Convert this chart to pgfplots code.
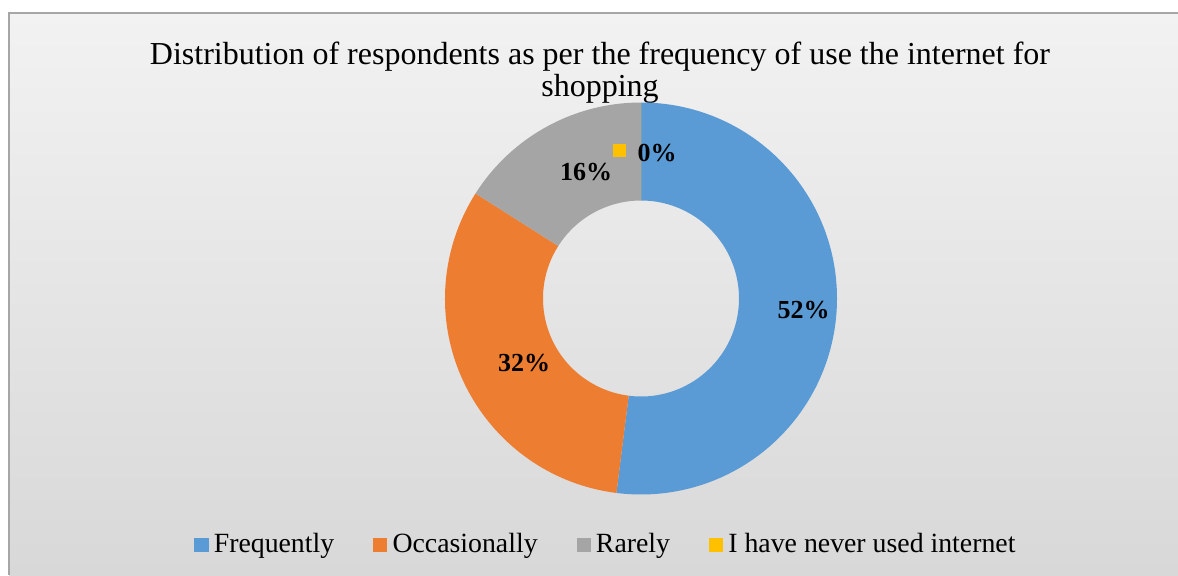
\documentclass[border=0pt]{standalone}
\usepackage{fontspec}
\setmainfont{Liberation Serif}
\usepackage{pgfplots}
\usepackage{pgfplotstable}
\pgfplotsset{compat=1.18}
\definecolor{cFreq}{HTML}{5B9BD5}
\definecolor{cOcc}{HTML}{ED7D31}
\definecolor{cRare}{HTML}{A5A5A5}
\definecolor{cNever}{HTML}{FFC000}
\definecolor{bgTop}{HTML}{F2F2F2}
\definecolor{bgBot}{HTML}{D8D8D8}
\definecolor{frameC}{HTML}{A6A6A6}

\pgfplotstableread[col sep=comma]{
name,value,color
Frequently,52,cFreq
Occasionally,32,cOcc
Rarely,16,cRare
Never,0,cNever
}\donutdata

\begin{document}
\begin{tikzpicture}
\useasboundingbox (0,0) rectangle (589pt,287.5pt);
\begin{axis}[
  at={(0,0)}, anchor=south west,
  hide axis, scale only axis,
  width=589pt, height=287.5pt,
  xmin=0, xmax=1178, ymin=0, ymax=575,
  clip=false,
  legend columns=4,
  legend image code/.code={\fill[#1] (0pt,-3.25pt) rectangle (6.5pt,3.25pt);},
  legend style={draw=none, fill=none, at={(axis cs:605,30.5)}, anchor=center,
    font=\fontsize{13.9}{16}\selectfont,
    inner sep=0pt,
    nodes={inner xsep=0pt, inner ysep=1pt},
    /tikz/every odd column/.append style={column sep=2.75pt},
    /tikz/every even column/.append style={column sep=19.5pt}},
]
% background and frame
\fill[top color=bgTop, bottom color=bgBot] (axis cs:9,0) rectangle (axis cs:1178,562);
\draw[frameC, line width=1pt] (axis cs:9,0) -- (axis cs:9,562) -- (axis cs:1178,562);
% title
\node[anchor=base, font=\fontsize{16}{18}\selectfont, inner sep=0pt] at (axis cs:600,510.7)
  {Distribution of respondents as per the frequency of use the internet for};
\node[anchor=base, font=\fontsize{16}{18}\selectfont, inner sep=0pt] at (axis cs:600,478.3) {shopping};
% donut slices
\pgfplotstablegetrowsof{\donutdata}
\pgfmathtruncatemacro\nrows{\pgfplotsretval-1}
\def\startangle{90}
\pgfplotsforeachungrouped \i in {0,...,\nrows}{%
  \pgfplotstablegetelem{\i}{value}\of\donutdata \let\val\pgfplotsretval
  \pgfplotstablegetelem{\i}{color}\of\donutdata \let\col\pgfplotsretval
  \pgfmathsetmacro\endangle{\startangle-3.6*\val}
  \pgfmathsetmacro\midangle{(\startangle+\endangle)/2}
  \pgfmathsetmacro\lx{641+147*cos(\midangle)}
  \pgfmathsetmacro\ly{276.5+147*sin(\midangle)}
  \pgfmathsetmacro\tx{\lx+16}
  \pgfmathsetmacro\ty{\ly-2}
  \pgfmathsetmacro\sxa{\lx-22-6.5}
  \pgfmathsetmacro\sxb{\lx-22+6.5}
  \pgfmathsetmacro\sya{\ly+1.5-6.5}
  \pgfmathsetmacro\syb{\ly+1.5+6.5}
  \edef\temp{%
    \noexpand\fill[\col] (axis cs:641,276.5) ++(\startangle:98pt)
      arc[start angle=\startangle, end angle=\endangle, radius=98pt]
      -- ++(\endangle:-49pt)
      arc[start angle=\endangle, end angle=\startangle, radius=49pt] -- cycle;
  }\temp
  \let\startangle\endangle
}
% data labels (with legend keys in slice colour)
\def\startangle{90}
\pgfplotsforeachungrouped \i in {0,...,\nrows}{%
  \pgfplotstablegetelem{\i}{value}\of\donutdata \let\val\pgfplotsretval
  \pgfplotstablegetelem{\i}{color}\of\donutdata \let\col\pgfplotsretval
  \pgfmathsetmacro\endangle{\startangle-3.6*\val}
  \pgfmathsetmacro\midangle{(\startangle+\endangle)/2}
  \pgfmathsetmacro\lx{641+147*cos(\midangle)}
  \pgfmathsetmacro\ly{276.5+147*sin(\midangle)}
  \pgfmathsetmacro\tx{\lx+16}
  \pgfmathsetmacro\ty{\ly-2}
  \pgfmathsetmacro\sxa{\lx-22-6.5}
  \pgfmathsetmacro\sxb{\lx-22+6.5}
  \pgfmathsetmacro\sya{\ly+1.5-6.5}
  \pgfmathsetmacro\syb{\ly+1.5+6.5}
  \edef\temp{%
    \noexpand\fill[\col] (axis cs:\sxa,\sya) rectangle (axis cs:\sxb,\syb);
    \noexpand\node[font=\noexpand\bfseries\noexpand\fontsize{13}{15}\noexpand\selectfont, inner sep=0pt]
      at (axis cs:\tx,\ty) {\val\noexpand\%};
  }\temp
  \let\startangle\endangle
}
\addlegendimage{cFreq}\addlegendentry{Frequently}
\addlegendimage{cOcc}\addlegendentry{Occasionally}
\addlegendimage{cRare}\addlegendentry{Rarely}
\addlegendimage{cNever}\addlegendentry{I have never used internet}
\end{axis}
\end{tikzpicture}
\end{document}
